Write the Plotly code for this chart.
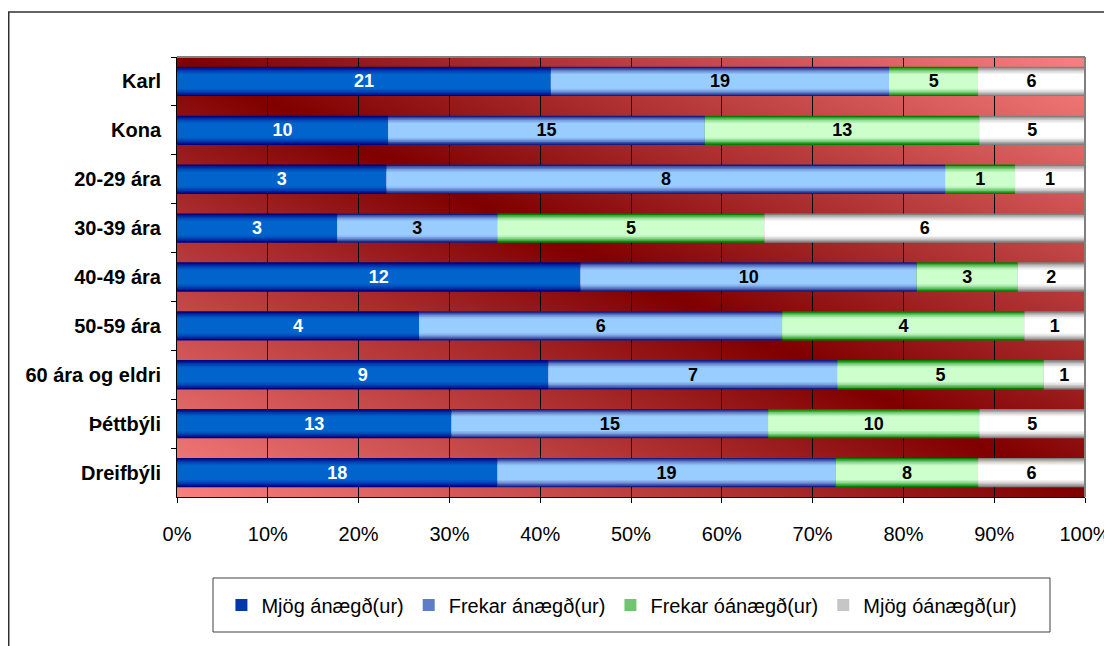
import base64
import struct
import zlib

import plotly.graph_objects as go

# ---------------- data ----------------
categories = ["Karl", "Kona", "20-29 ára", "30-39 ára", "40-49 ára",
              "50-59 ára", "60 ára og eldri", "Þéttbýli", "Dreifbýli"]
series_names = ["Mjög ánægð(ur)", "Frekar ánægð(ur)", "Frekar óánægð(ur)", "Mjög óánægð(ur)"]
mjog_anaegd = [21, 10, 3, 3, 12, 4, 9, 13, 18]
frekar_anaegd = [19, 15, 8, 3, 10, 6, 7, 15, 19]
frekar_oanaegd = [5, 13, 1, 5, 3, 4, 5, 10, 8]
mjog_oanaegd = [6, 5, 1, 6, 2, 1, 1, 5, 6]
x_tick_vals = [0, 10, 20, 30, 40, 50, 60, 70, 80, 90, 100]
x_tick_text = ["0%", "10%", "20%", "30%", "40%", "50%", "60%", "70%", "80%", "90%", "100%"]

series_values = [mjog_anaegd, frekar_anaegd, frekar_oanaegd, mjog_oanaegd]

# ---------------- styling ----------------
edge_colors = [(0, 0, 128), (20, 30, 130), (0, 128, 0), (128, 128, 128)]
center_colors = [(0, 100, 204), (153, 204, 255), (204, 255, 204), (255, 255, 255)]
text_colors = ["white", "black", "black", "black"]
FONT = "Liberation Sans, Arial, sans-serif"
BAR_W = 0.6
layer_h = [1.0, 0.9, 0.8, 0.7, 0.6, 0.5]
layer_f = [0.0, 0.3, 0.55, 0.75, 0.9, 1.0]


def mix(a, b, f):
    return "rgb(%d,%d,%d)" % tuple(round(a[i] + (b[i] - a[i]) * f) for i in range(3))


# totals and percentage shares
totals = [sum(v[i] for v in series_values) for i in range(len(categories))]
pcts = [[v[i] / totals[i] * 100 for i in range(len(categories))] for v in series_values]
bases = []
running = [0.0] * len(categories)
for p in pcts:
    bases.append(list(running))
    running = [running[i] + p[i] for i in range(len(categories))]

fig = go.Figure()

for s, name in enumerate(series_names):
    for k, (h, f) in enumerate(zip(layer_h, layer_f)):
        fig.add_trace(go.Bar(
            y=categories, x=pcts[s], base=bases[s], orientation="h",
            width=BAR_W * h,
            marker=dict(color=mix(edge_colors[s], center_colors[s], f), line=dict(width=0)),
            name=name, legendgroup=name, showlegend=(k == 2),
            hoverinfo="skip",
        ))

# text labels on top
for s, name in enumerate(series_names):
    fig.add_trace(go.Bar(
        y=categories, x=pcts[s], base=bases[s], orientation="h",
        width=BAR_W,
        marker=dict(color="rgba(0,0,0,0)", line=dict(width=0)),
        text=[str(v) for v in series_values[s]],
        textposition="inside", insidetextanchor="middle",
        textfont=dict(family=FONT, size=18, color=text_colors[s], weight="bold"),
        showlegend=False, legendgroup=name, hoverinfo="skip",
    ))

# ---------------- background gradient image ----------------
def make_png(w, h):
    dark = (128, 0, 0)
    pink = (250, 128, 128)
    rows = []
    for y in range(h):
        v = y / (h - 1)
        row = bytearray([0])
        for x in range(w):
            u = x / (w - 1)
            t = abs(u - v)
            row += bytes(round(dark[i] + (pink[i] - dark[i]) * t) for i in range(3))
        rows.append(bytes(row))
    raw = b"".join(rows)

    def chunk(tag, data):
        return (struct.pack(">I", len(data)) + tag + data
                + struct.pack(">I", zlib.crc32(tag + data) & 0xFFFFFFFF))

    png = (b"\x89PNG\r\n\x1a\n"
           + chunk(b"IHDR", struct.pack(">IIBBBBB", w, h, 8, 2, 0, 0, 0))
           + chunk(b"IDAT", zlib.compress(raw, 9))
           + chunk(b"IEND", b""))
    return "data:image/png;base64," + base64.b64encode(png).decode()


bg_src = make_png(300, 150)

fig.update_layout(
    width=1104, height=638,
    margin=dict(l=169, r=27, t=49, b=149, pad=0),
    paper_bgcolor="white", plot_bgcolor="rgba(0,0,0,0)",
    barmode="overlay",
    bargap=0.4,
    font=dict(family=FONT, size=20, color="black"),
    images=[dict(source=bg_src, xref="x domain", yref="y domain", x=0, y=1,
                 sizex=1, sizey=1, xanchor="left", yanchor="top",
                 sizing="stretch", layer="below")],
    xaxis=dict(range=[0, 100], tickvals=x_tick_vals, ticktext=x_tick_text,
               showgrid=True, gridcolor="black", gridwidth=1,
               showline=True, linecolor="black", linewidth=1,
               ticks="outside", ticklen=5, tickcolor="black",
               ticklabelstandoff=14, zeroline=False, automargin=False,
               tickfont=dict(family=FONT, size=20, color="black"),
               fixedrange=True),
    yaxis=dict(type="category", categoryorder="array", categoryarray=categories,
               autorange="reversed", showgrid=False,
               showline=True, linecolor="black", linewidth=1,
               ticks="outside", ticklen=5, tickcolor="black", tickson="boundaries",
               ticklabelstandoff=11, automargin=False,
               tickfont=dict(family=FONT, size=20, color="black", weight="bold"),
               fixedrange=True),
    legend=dict(orientation="h", x=0.49, xanchor="center", y=-0.2455, yanchor="middle",
                bgcolor="rgba(0,0,0,0)", borderwidth=0,
                font=dict(family=FONT, size=20, color="black"),
                traceorder="normal"),
    shapes=[
        # outer chart border
        dict(type="rect", xref="paper", yref="paper", x0=-0.1853, x1=1.2,
             y0=-0.5, y1=1.10227, line=dict(color="#303030", width=1.5), layer="below"),
        # legend box
        dict(type="rect", xref="paper", yref="paper", x0=0.03965, x1=0.96145,
             y0=-0.30682, y1=-0.18409, line=dict(color="#404040", width=1), layer="below"),
        # plot area top & right border (grey)
        dict(type="line", xref="x domain", yref="y domain", x0=0, x1=1, y0=1, y1=1,
             line=dict(color="#808080", width=2), layer="above"),
        dict(type="line", xref="x domain", yref="y domain", x0=1, x1=1, y0=0, y1=1,
             line=dict(color="#808080", width=2), layer="above"),
    ],
)

fig.write_html("out.html")
